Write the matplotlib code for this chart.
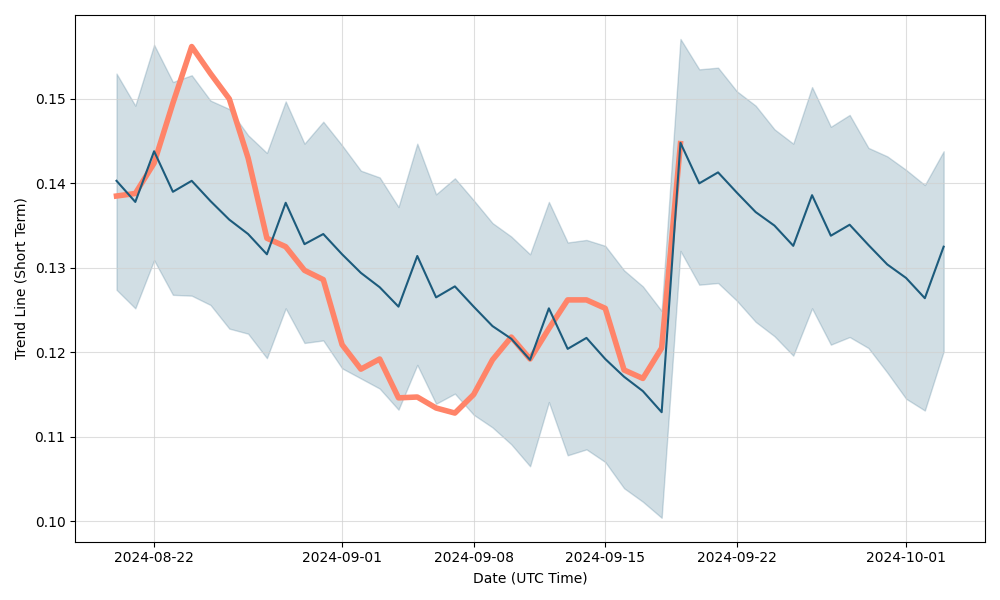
import numpy as np
import pandas as pd
import matplotlib
matplotlib.use('Agg')
import matplotlib.pyplot as plt

# daily values
dates = pd.date_range('2024-08-20', '2024-10-03', freq='D')

trend = [0.1403, 0.1378, 0.1438, 0.1390, 0.1403, 0.1379, 0.1357, 0.1340, 0.1316, 0.1377,
         0.1328, 0.1340, 0.1316, 0.1294, 0.1277, 0.1254, 0.1314, 0.1265, 0.1278, 0.1254,
         0.1231, 0.1216, 0.1191, 0.1252, 0.1204, 0.1217, 0.1192, 0.1171, 0.1154, 0.1129,
         0.1448, 0.1400, 0.1413, 0.1389, 0.1366, 0.1350, 0.1326, 0.1386, 0.1338, 0.1351,
         0.1327, 0.1304, 0.1288, 0.1264, 0.1325]

upper = [0.1530, 0.1492, 0.1564, 0.1520, 0.1528, 0.1498, 0.1488, 0.1457, 0.1436, 0.1497,
         0.1447, 0.1473, 0.1445, 0.1415, 0.1407, 0.1372, 0.1447, 0.1387, 0.1406, 0.1380,
         0.1353, 0.1337, 0.1316, 0.1378, 0.1330, 0.1333, 0.1326, 0.1297, 0.1278, 0.1249,
         0.1571, 0.1535, 0.1537, 0.1509, 0.1492, 0.1464, 0.1447, 0.1514, 0.1467, 0.1481,
         0.1442, 0.1432, 0.1416, 0.1398, 0.1438]

lower = [0.1274, 0.1252, 0.1309, 0.1268, 0.1267, 0.1256, 0.1228, 0.1222, 0.1193, 0.1252,
         0.1211, 0.1214, 0.1181, 0.1169, 0.1157, 0.1132, 0.1185, 0.1139, 0.1151, 0.1126,
         0.1111, 0.1091, 0.1065, 0.1141, 0.1078, 0.1085, 0.1070, 0.1039, 0.1023, 0.1004,
         0.1320, 0.1280, 0.1282, 0.1261, 0.1236, 0.1219, 0.1196, 0.1252, 0.1209, 0.1218,
         0.1205, 0.1176, 0.1145, 0.1131, 0.1201]

price = [0.1385, 0.1388, 0.1424, 0.1495, 0.1562, 0.1530, 0.1500, 0.1430, 0.1335, 0.1325,
         0.1297, 0.1286, 0.1209, 0.1180, 0.1192, 0.1146, 0.1147, 0.1134, 0.1128, 0.1150,
         0.1191, 0.1218, 0.1192, 0.1228, 0.1262, 0.1262, 0.1252, 0.1179, 0.1169, 0.1205,
         0.1447]

blue = '#1c5b7c'
salmon = '#ff8469'

fig, ax = plt.subplots(figsize=(10, 6), dpi=100)
ax.fill_between(dates, lower, upper, color=blue, alpha=0.2)
ax.plot(dates[:len(price)], price, color=salmon, linewidth=4)
ax.plot(dates, trend, color=blue, linewidth=1.5)

ax.grid(True, color='#d0d0d0', alpha=0.7)
ax.set_xlabel('Date (UTC Time)')
ax.set_ylabel('Trend Line (Short Term)')
plt.tight_layout()
plt.savefig('out.png')
